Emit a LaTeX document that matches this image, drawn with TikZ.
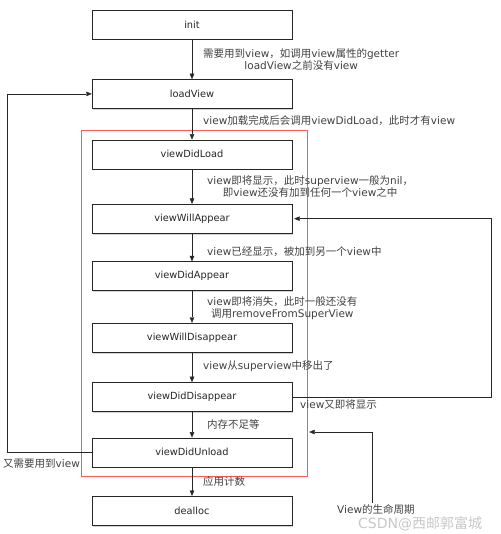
\documentclass[tikz,border=0pt]{standalone}
\usepackage{fontspec}
\setmainfont{DejaVu Sans}
\newfontfamily\cjkfont{Noto Sans CJK SC}
\newcommand{\zh}[1]{{\cjkfont #1}}
\usetikzlibrary{arrows.meta, positioning, shadows}

\begin{document}
\begin{tikzpicture}[x=1pt, y=-1pt,
        stage/.style={rectangle, draw=black!85, fill=white, minimum width=200pt, minimum height=29pt,
                      inner sep=0pt, font=\fontsize{9.8}{12}\selectfont, text=black!85,
                      drop shadow={shadow xshift=1.2pt, shadow yshift=-1.5pt, opacity=0.35}},
        note/.style={align=center, inner sep=0pt, font=\fontsize{10.5}{12}\selectfont, text=black!75},
        arrow/.style={draw=black!85, -{Triangle[length=5.5pt, width=4.5pt]}},
        zone/.style={rectangle, draw=red!65, minimum width=226pt, minimum height=346pt, inner sep=0pt}
      ]
      \useasboundingbox (0,0) rectangle (500,534);

      % red frame round the appear/disappear stages
      \node (lifecycle) [zone] at (194,303) {};

      % stages
      \node (init) [stage] at (192,24.5) {init};
      \node (loadView) [stage, below=40pt of init] {loadView};
      \node (viewDidLoad) [stage, below=31pt of loadView] {viewDidLoad};
      \node (viewWillAppear) [stage, below=35pt of viewDidLoad] {viewWillAppear};
      \node (viewDidAppear) [stage, below=28pt of viewWillAppear] {viewDidAppear};
      \node (viewWillDisappear) [stage, below=32pt of viewDidAppear] {viewWillDisappear};
      \node (viewDidDisappear) [stage, below=30pt of viewWillDisappear] {viewDidDisappear};
      \node (viewDidUnload) [stage, below=26pt of viewDidDisappear] {viewDidUnload};
      \node (dealloc) [stage, below=29pt of viewDidUnload] {dealloc};

      % labels of the steps
      \node (needView) [note, anchor=west] at (203,59.5) {\zh{需要用到}view\zh{，如调用}view\zh{属性的}getter\\loadView\zh{之前没有}view};
      \node (loaded) [note, anchor=west] at (203,121) {view\zh{加载完成后会调用}viewDidLoad\zh{，此时才有}view};
      \node (willShow) [note, anchor=west] at (207,186.5) {view\zh{即将显示，此时}superview\zh{一般为}nil\zh{，}\\\zh{即}view\zh{还没有加到任何一个}view\zh{之中}};
      \node (shown) [note, anchor=west] at (207,252) {view\zh{已经显示，被加到另一个}view\zh{中}};
      \node (willHide) [note, anchor=west] at (207,308.5) {view\zh{即将消失，此时一般还没有}\\\zh{调用}removeFromSuperView};
      \node (removed) [note, anchor=west] at (203,366) {view\zh{从}superview\zh{中移出了}};
      \node (lowMem) [note, anchor=west] at (207,424) {\zh{内存不足等}};
      \node (refCount) [note, anchor=west] at (203,481) {\zh{应用计数}};
      \node (again) [note, anchor=west] at (3,464) {\zh{又需要用到}view};
      \node (reshow) [note, anchor=west] at (300,405) {view\zh{又即将显示}};
      \node (life) [note, anchor=west] at (337,509) {View\zh{的生命周期}};
      \node (mark) [inner sep=0pt, anchor=west, font=\fontsize{14}{15}\selectfont, text=black!22] at (358,524) {CSDN@\zh{西邮郭富城}};
      \coordinate (lifeStart) at (372,503);

      % arrows
      \draw [arrow] (init) -- (loadView);
      \draw [arrow] (loadView) -- (viewDidLoad);
      \draw [arrow] (viewDidLoad) -- (viewWillAppear);
      \draw [arrow] (viewWillAppear) -- (viewDidAppear);
      \draw [arrow] (viewDidAppear) -- (viewWillDisappear);
      \draw [arrow] (viewWillDisappear) -- (viewDidDisappear);
      \draw [arrow] (viewDidDisappear) -- (viewDidUnload);
      \draw [arrow] (viewDidUnload) -- (dealloc);
      \draw [arrow] (viewDidUnload.west) -- ++(-85,0) |- (loadView.west);
      \draw [arrow] (viewDidDisappear.east) -- ++(199,0) |- ([xshift=2pt]viewWillAppear.east);
      \draw [arrow] (lifeStart) |- ([xshift=2pt]lifecycle.east |- 0,432);

    \end{tikzpicture}
\end{document}
